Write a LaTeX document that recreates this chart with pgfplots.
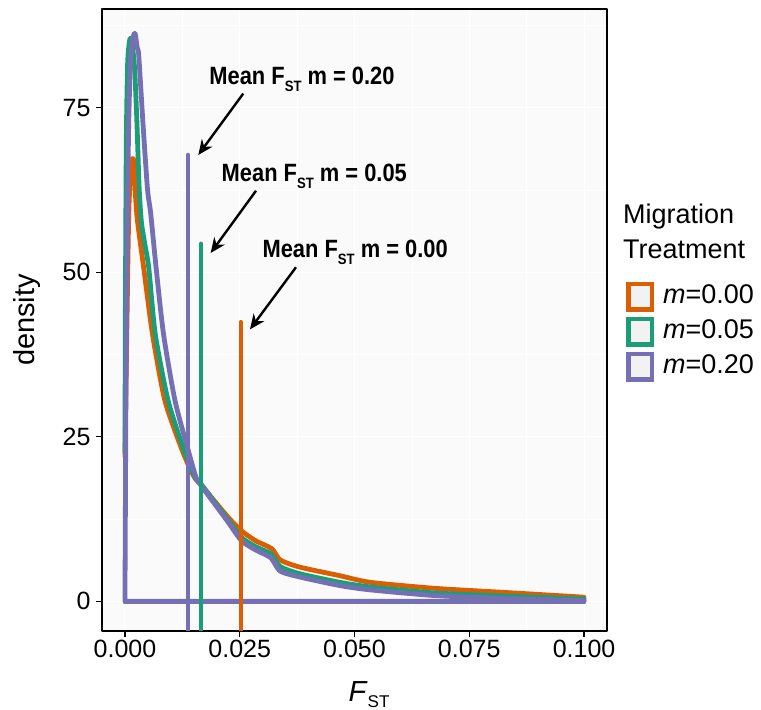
\documentclass[border=0pt]{standalone}
\usepackage{fontspec}
\setmainfont{Liberation Sans}
\newfontfamily\narrowfont[FakeStretch=0.875]{Liberation Sans}
\usepackage{pgfplots}
\pgfplotsset{compat=1.18}
\usetikzlibrary{arrows.meta}
\definecolor{c0}{HTML}{D95F02}
\definecolor{c5}{HTML}{1B9E77}
\definecolor{c20}{HTML}{7570B3}
\definecolor{panelbg}{HTML}{FAFAFA}
\definecolor{keybg}{HTML}{F2F2F2}
\begin{document}
\begin{tikzpicture}[x=1pt,y=1pt]
\useasboundingbox (0,0) rectangle (761,710);
\begin{axis}[
  at={(102pt,79pt)}, anchor=south west,
  scale only axis, width=505pt, height=622pt,
  xmin=-0.005, xmax=0.105, ymin=-4.5, ymax=90,
  axis background/.style={fill=panelbg},
  xtick={0,0.025,0.05,0.075,0.1},
  xticklabels={0.000,0.025,0.050,0.075,0.100},
  ytick={0,25,50,75},
  minor xtick={0.0125,0.0375,0.0625,0.0875},
  minor ytick={12.5,37.5,62.5,87.5},
  grid=both,
  major grid style={white, line width=1pt},
  minor grid style={white, line width=0.5pt},
  xtick pos=bottom, ytick pos=left,
  tick align=outside,
  major tick length=6pt, minor tick length=0pt,
  tick style={black, line width=1.2pt},
  axis line style={black, line width=1.3pt},
  ticklabel style={font=\fontsize{25}{30}\selectfont, text=black},
  yticklabel style={xshift=-2pt},
  /pgf/number format/assume math mode=true,
  scaled x ticks=false,
  line join=round,
]
% m = 0.00
\addplot[c0, line width=4.8pt, line cap=round] coordinates {(0.1,0.6) (0.1,0) (0,0) (0,22)};
\addplot[c0, line width=4.8pt, line cap=round, smooth, tension=0.4] coordinates {
(0,22) (0.0008,58) (0.0014,66.5) (0.0019,67) (0.0022,62.7) (0.0027,58)
(0.0041,50.6) (0.0060,40.6) (0.0087,30.5) (0.0125,22.9) (0.0150,19.0)
(0.0167,17.6) (0.0222,13.0) (0.0254,10.7) (0.0285,9.2) (0.0320,8.0)
(0.0338,6.3) (0.0381,5.2) (0.0468,3.9) (0.0534,2.9) (0.0671,2.0)
(0.0817,1.4) (0.0985,0.7) (0.1,0.6)};
% m = 0.05
\addplot[c5, line width=4.8pt, line cap=round] coordinates {(0.1,0.4) (0.1,0) (0,0) (0,22.6)};
\addplot[c5, line width=4.8pt, line cap=round, smooth, tension=0.4] coordinates {
(0,22.6) (0.0001,45) (0.0003,70) (0.0006,82) (0.0011,85.5) (0.0016,84.5)
(0.0021,81) (0.0026,72.9) (0.0031,62.7) (0.0036,57.5) (0.0044,54) (0.0052,50.6)
(0.0066,40.6) (0.0094,30.5) (0.0129,22.9) (0.0153,18.8) (0.0167,17.7)
(0.0222,12.6) (0.0254,9.7) (0.0285,8.3) (0.0318,7.2) (0.0338,5.3)
(0.0381,4.2) (0.0468,2.9) (0.0534,2.2) (0.0671,1.3) (0.0817,0.85)
(0.0985,0.4) (0.1,0.4)};
% m = 0.20
\addplot[c20, line width=4.8pt, line cap=round] coordinates {(0.1,0.15) (0.1,0) (0,0) (0.0002,30)};
\addplot[c20, line width=4.8pt, line cap=round, smooth, tension=0.4] coordinates {
(0.0002,30) (0.0005,55) (0.0008,72) (0.0012,82) (0.0017,85.5) (0.0022,86.3)
(0.0027,84) (0.0030,83) (0.0039,72.9) (0.0049,62.7) (0.0056,59) (0.0068,50.6)
(0.0084,40.6) (0.0109,30.5) (0.0138,22.9) (0.0155,18.8) (0.0167,17.5)
(0.0222,12.3) (0.0254,9.2) (0.0285,7.8) (0.0318,6.6) (0.0338,4.6)
(0.0381,3.7) (0.0468,2.4) (0.0534,1.75) (0.0671,0.9) (0.0817,0.45)
(0.0985,0.15) (0.1,0.15)};
% mean lines
\addplot[c20, line width=4.8pt, line cap=round] coordinates {(0.01373,-10) (0.01373,67.8)};
\addplot[c5, line width=4.8pt, line cap=round] coordinates {(0.01656,-10) (0.01656,54.3)};
\addplot[c0, line width=4.8pt, line cap=round] coordinates {(0.02527,-10) (0.02527,42.4)};
% annotations
\node[anchor=base, font=\narrowfont\bfseries\fontsize{25}{30}\selectfont] at (axis cs:0.03856,78.48)
  {Mean F\raisebox{-6.5pt}{\fontsize{15}{15}\selectfont ST} m = 0.20};
\node[anchor=base, font=\narrowfont\bfseries\fontsize{25}{30}\selectfont] at (axis cs:0.04124,63.79)
  {Mean F\raisebox{-6.5pt}{\fontsize{15}{15}\selectfont ST} m = 0.05};
\node[anchor=base, font=\narrowfont\bfseries\fontsize{25}{30}\selectfont] at (axis cs:0.05015,52.17)
  {Mean F\raisebox{-6.5pt}{\fontsize{15}{15}\selectfont ST} m = 0.00};
\draw[line width=2.4pt, -{Stealth[length=15pt,width=13pt]}] (axis cs:0.02577,77.15) -- (axis cs:0.01597,67.82);
\draw[line width=2.4pt, -{Stealth[length=15pt,width=13pt]}] (axis cs:0.02854,62.38) -- (axis cs:0.01867,52.93);
\draw[line width=2.4pt, -{Stealth[length=15pt,width=13pt]}] (axis cs:0.03725,50.76) -- (axis cs:0.02723,41.32);
\end{axis}
% axis titles
\node[rotate=90, font=\fontsize{29}{32}\selectfont] at (27,390) {density};
\node[anchor=base, font=\fontsize{29}{32}\selectfont] at (369,8)
  {\textit{F}\raisebox{-5pt}{\fontsize{17}{17}\selectfont ST}};
% legend
\node[anchor=base west, inner sep=0pt, font=\fontsize{27}{30}\selectfont] at (623,486.5) {Migration};
\node[anchor=base west, inner sep=0pt, font=\fontsize{27}{30}\selectfont] at (623,451.7) {Treatment};
\filldraw[fill=keybg, draw=c0, line width=4.5pt] (628.25,400.55) rectangle (652.05,426.05);
\filldraw[fill=keybg, draw=c5, line width=4.5pt] (628.25,365.55) rectangle (652.05,391.05);
\filldraw[fill=keybg, draw=c20, line width=4.5pt] (628.25,330.25) rectangle (652.05,355.75);
\node[anchor=base west, inner sep=0pt, font=\fontsize{27}{30}\selectfont] at (663,406) {\textit{m}=0.00};
\node[anchor=base west, inner sep=0pt, font=\fontsize{27}{30}\selectfont] at (663,371.3) {\textit{m}=0.05};
\node[anchor=base west, inner sep=0pt, font=\fontsize{27}{30}\selectfont] at (663,336) {\textit{m}=0.20};
\end{tikzpicture}
\end{document}
